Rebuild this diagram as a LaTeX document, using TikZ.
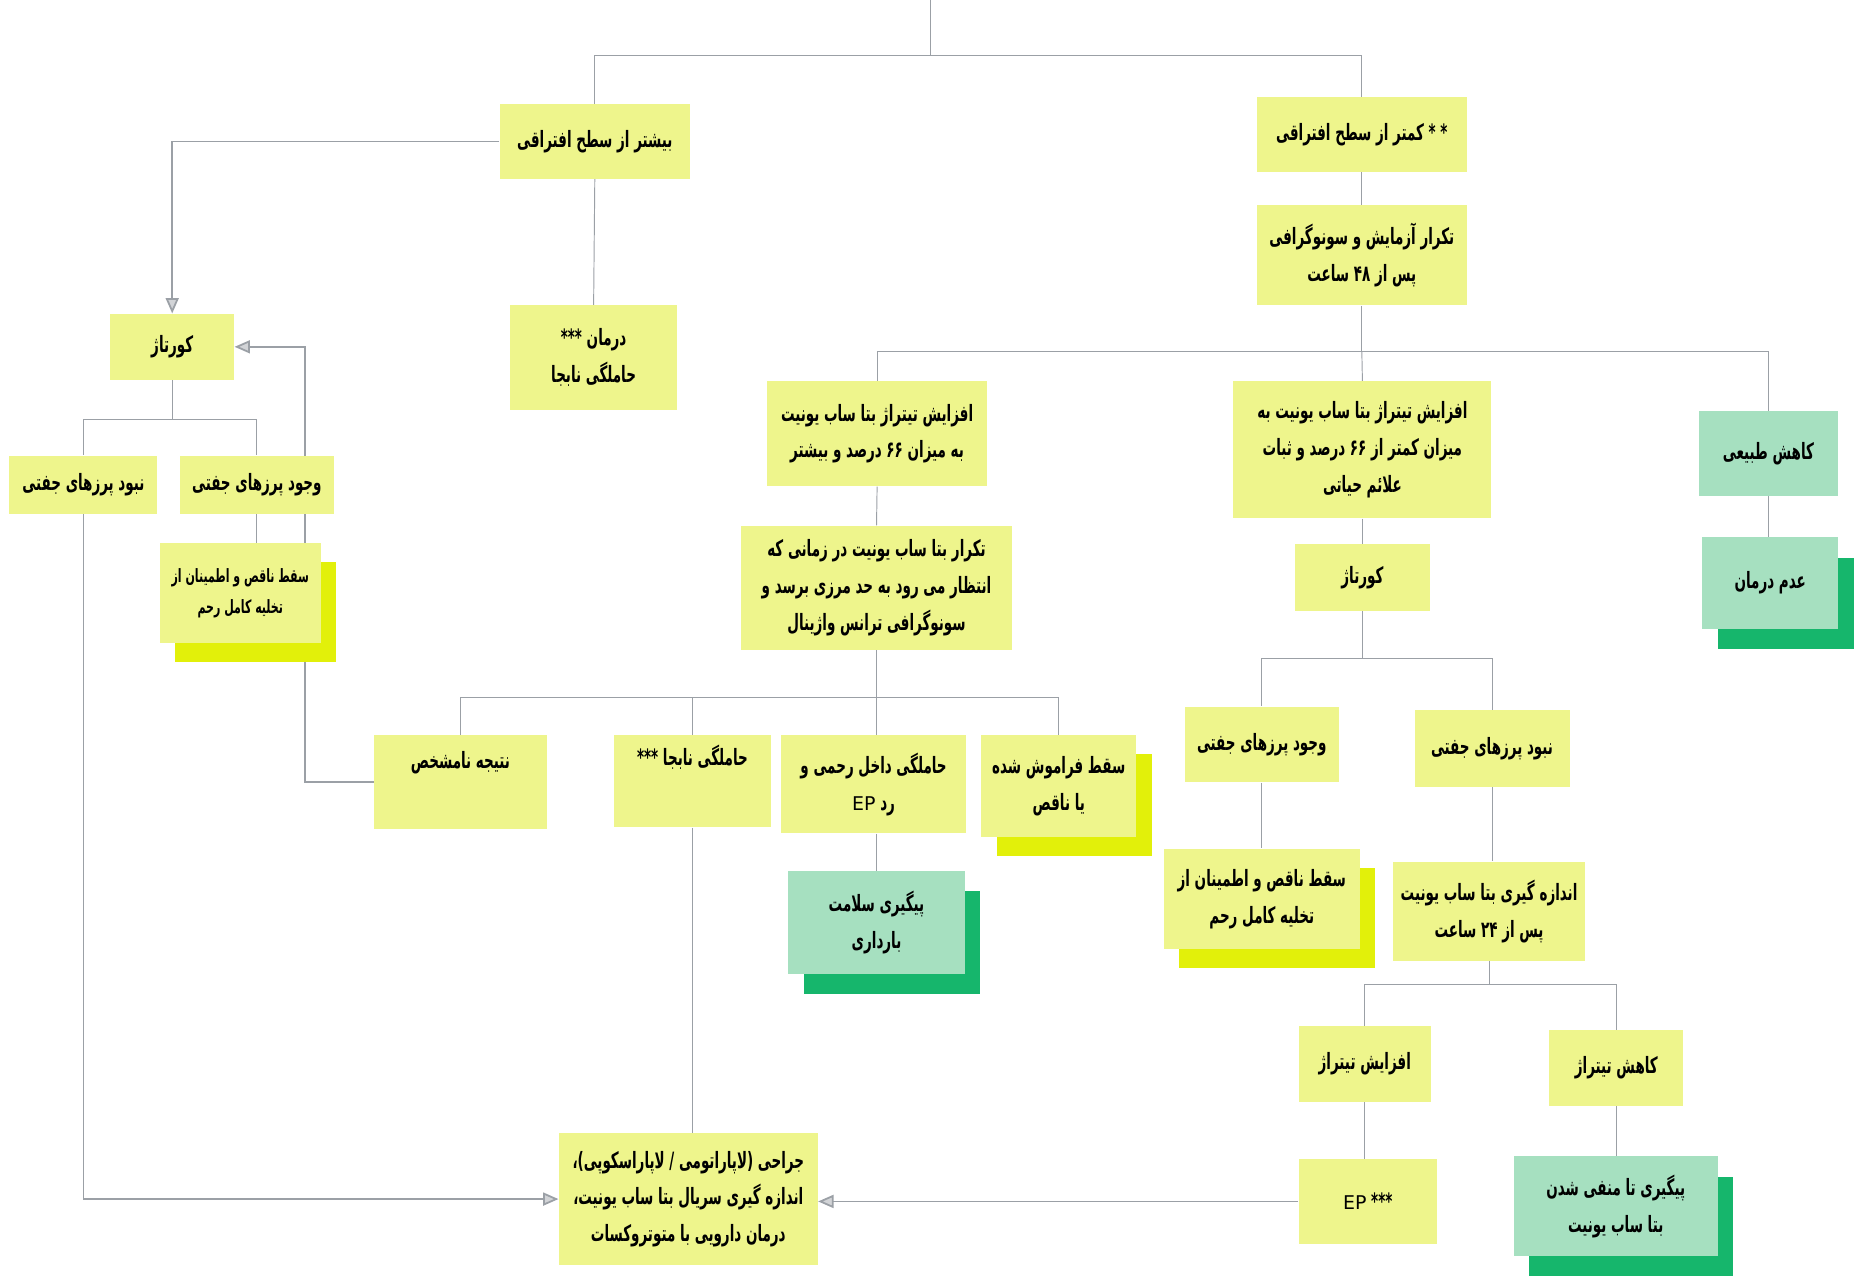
\documentclass[tikz,border=0pt]{standalone}
\usepackage{fontspec}
\TeXXeTstate=1
\newfontfamily\arabicfont[Script=Arabic,FakeStretch=0.6]{DejaVu Sans}
\newfontfamily\latinfont{DejaVu Sans}
\usetikzlibrary{arrows.meta,shadows,backgrounds,calc}
\definecolor{yfill}{RGB}{238,245,140}
\definecolor{ysh}{RGB}{226,240,10}
\definecolor{gfill}{RGB}{166,224,192}
\definecolor{gsh}{RGB}{22,182,108}
\definecolor{lnc}{RGB}{155,160,166}
\newcommand{\prs}[1]{\beginR #1\endR}
\newcommand{\lat}[1]{\beginL{\latinfont\mdseries\fontsize{16}{31}\selectfont #1}\endL}
\begin{document}
\begin{tikzpicture}[x=1pt,y=-1pt,
  box/.style={draw=none, inner sep=3pt, align=center,
    font=\fontsize{19}{31}\arabicfont\bfseries, text=black},
  ybox/.style={box, fill=yfill},
  gbox/.style={box, fill=gfill},
  ysh/.style={drop shadow={shadow xshift=13pt, shadow yshift=-16pt, fill=ysh, opacity=1}},
  gsh/.style={drop shadow={shadow xshift=13pt, shadow yshift=-17pt, fill=gsh, opacity=1}},
  ln/.style={draw=lnc, line width=0.8pt},
  arr/.style={draw=lnc, line width=1.5pt, -{Triangle[length=13pt,width=11pt,fill=lnc!45]}}
]
\useasboundingbox (0,0) rectangle (1568,1082);

% ---------- nodes ----------
\node[ybox, minimum width=161pt, minimum height=63pt] (A) at (502.5,119.5) {\prs{بیشتر از سطح افتراقی}};
\node[ybox, minimum width=141pt, minimum height=88pt] (B) at (501.5,302) {\prs{درمان ***}\\\prs{حاملگی نابجا}};
\node[ybox, minimum width=177pt, minimum height=63pt] (C) at (1150.5,113.5) {\prs{* * کمتر از سطح افتراقی}};
\node[ybox, minimum width=177pt, minimum height=85pt] (D) at (1150.5,215.5) {\prs{تکرار آزمایش و سونوگرافی}\\\prs{پس از ۴۸ ساعت}};
\node[ybox, minimum width=186pt, minimum height=89pt] (E) at (741,366.5) {\prs{افزایش تیتراژ بتا ساب یونیت}\\\prs{به میزان ۶۶ درصد و بیشتر}};
\node[ybox, minimum width=218pt, minimum height=116pt] (F) at (1151,380) {\prs{افزایش تیتراژ بتا ساب یونیت به}\\\prs{میزان کمتر از ۶۶ درصد و ثبات}\\\prs{علائم حیاتی}};
\node[gbox, minimum width=118pt, minimum height=72pt] (G) at (1494,383) {\prs{کاهش طبیعی}};
\node[gbox, gsh, minimum width=115pt, minimum height=77pt] (H) at (1495.5,492.5) {\prs{عدم درمان}};
\node[ybox, minimum width=229pt, minimum height=105pt] (I) at (740.5,496.5) {\prs{تکرار بتا ساب یونیت  در زمانی که}\\\prs{انتظار می رود به حد مرزی برسد  و}\\\prs{سونوگرافی ترانس واژینال}};
\node[ybox, minimum width=146pt, minimum height=79pt, text height=25pt, text depth=48pt] (J) at (389,660.5) {\prs{نتیجه نامشخص}};
\node[ybox, minimum width=132pt, minimum height=78pt, text height=23pt, text depth=49pt] (K2) at (585,660) {\prs{حاملگی نابجا ***}};
\node[ybox, minimum width=156pt, minimum height=83pt] (L) at (738,662.5) {\prs{حاملگی داخل رحمی و}\\\prs{رد \lat{EP}}};
\node[ybox, ysh, minimum width=131pt, minimum height=86pt] (M) at (894.5,664) {\prs{سقط فراموش شده}\\\prs{یا ناقص}};
\node[gbox, gsh, minimum width=149pt, minimum height=87pt] (N) at (740.5,779.5) {\prs{پیگیری سلامت}\\\prs{بارداری}};
\node[ybox, minimum width=219pt, minimum height=112pt] (S) at (581.5,1013) {\prs{جراحی (لاپاراتومی / لاپاراسکوپی)،}\\\prs{اندازه گیری سریال بتا ساب یونیت،}\\\prs{درمان دارویی با متوتروکسات}};
\node[ybox, minimum width=105pt, minimum height=56pt] (K) at (145.5,293) {\prs{کورتاژ}};
\node[ybox, minimum width=125pt, minimum height=49pt] (P1) at (70.5,409.5) {\prs{نبود پرزهای جفتی}};
\node[ybox, minimum width=130pt, minimum height=49pt] (P2) at (217,409.5) {\prs{وجود پرزهای جفتی}};
\node[ybox, ysh, minimum width=136pt, minimum height=84pt, font=\fontsize{15.5}{26}\arabicfont\bfseries] (Q) at (203,501) {\prs{سقط ناقص و اطمینان از}\\\prs{تخلیه کامل رحم}};
\node[ybox, minimum width=114pt, minimum height=56pt] (K3) at (1151,488) {\prs{کورتاژ}};
\node[ybox, minimum width=130pt, minimum height=64pt] (R1) at (1066,629) {\prs{وجود پرزهای جفتی}};
\node[ybox, minimum width=131pt, minimum height=65pt] (R2) at (1260.5,632.5) {\prs{نبود پرزهای جفتی}};
\node[ybox, ysh, minimum width=166pt, minimum height=85pt] (R3) at (1066,759.5) {\prs{سقط ناقص و اطمینان از}\\\prs{تخلیه کامل رحم}};
\node[ybox, minimum width=162pt, minimum height=84pt] (R4) at (1258,770) {\prs{اندازه گیری بتا ساب یونیت}\\\prs{پس از ۲۴ ساعت}};
\node[ybox, minimum width=112pt, minimum height=64pt] (T1) at (1153,899) {\prs{افزایش تیتراژ}};
\node[ybox, minimum width=113pt, minimum height=64pt] (T2) at (1365.5,902) {\prs{کاهش تیتراژ}};
\node[ybox, minimum width=117pt, minimum height=72pt] (T3) at (1155.5,1015) {\prs{*** \lat{EP}}};
\node[gbox, gsh, minimum width=172pt, minimum height=84pt] (T4) at (1365,1019) {\prs{پیگیری تا منفی شدن}\\\prs{بتا ساب یونیت}};

% ---------- branch points ----------
\coordinate (top) at (786,0);
\coordinate (t1) at (786,47);
\coordinate (b1) at (1150.5,297);
\coordinate (ib) at (740.5,589);
\coordinate (kb) at (145.5,354);
\coordinate (kb2) at (1151,556);
\coordinate (rb) at (1258,832);

% ---------- connectors ----------
\begin{pgfonlayer}{background}
\draw[ln] (top) -- (t1);
\draw[ln] (t1) -| (A.north);
\draw[ln] (t1) -| (C.north);
\draw[ln] (A.south) -- (B.north);
\draw[ln] (C.south) -- (D.north);
\draw[ln] (D.south) -- (b1);
\draw[ln] (b1) -| (E.north);
\draw[ln] (b1) -- (F.north);
\draw[ln] (b1) -| (G.north);
\draw[ln] (G.south) -- (G.south |- H.north);
\draw[ln] (E.south) -- (I.north);
\draw[ln] (I.south) -- (ib);
\draw[ln] (ib) -| (J.north);
\draw[ln] (ib) -| (K2.north);
\draw[ln] (ib) -- (ib |- L.north);
\draw[ln] (ib) -| (M.north);
\draw[ln] (N.north |- L.south) -- (N.north);
\draw[ln] (K2.south) -- (K2.south |- S.north);
\draw[ln] (F.south) -- (K3.north);
\draw[ln] (K3.south) -- (kb2);
\draw[ln] (kb2) -| (R1.north);
\draw[ln] (kb2) -| (R2.north);
\draw[ln] (R1.south) -- (R3.north);
\draw[ln] (R2.south) -- (R2.south |- R4.north);
\draw[ln] (R4.south) -- (rb);
\draw[ln] (rb) -| (T1.north);
\draw[ln] (rb) -| (T2.north);
\draw[ln] (T1.south) -- (T1.south |- T3.north);
\draw[ln] (T2.south) -- (T2.south |- T4.north);
\draw[ln] (K.south) -- (kb);
\draw[ln] (kb) -| (P1.north);
\draw[ln] (kb) -| (P2.north);
\draw[ln] (P2.south) -- (P2.south |- Q.north);
\draw[arr] (A.west) -| (K.north);
\draw[arr] (J.west) -- ++(-58,0) |- (K.east);
\draw[arr] (P1.south) |- (S.west);
\draw[arr] (T3.west) -- (T3.west -| S.east);
\end{pgfonlayer}
\end{tikzpicture}
\end{document}
